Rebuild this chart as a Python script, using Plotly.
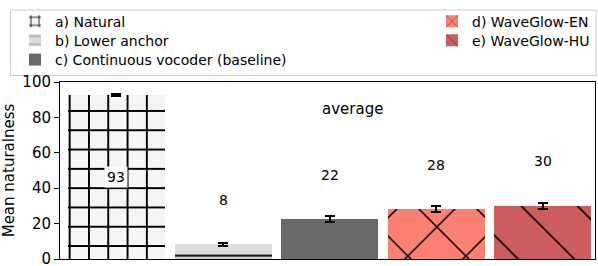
import plotly.graph_objects as go

# ---- data ----
categories = ["a) Natural", "b) Lower anchor", "c) Continuous vocoder (baseline)",
              "d) WaveGlow-EN", "e) WaveGlow-HU"]
means = [92.8, 8.4, 22.6, 28.2, 30.1]
errors = [0.6, 0.8, 1.6, 1.8, 1.8]
value_labels = ["93", "8", "22", "28", "30"]
panel_title = "average"

colors = ["#f5f5f5", "#dcdcdc", "#696969", "#fa8072", "#cd5c5c"]
patterns = [
    dict(shape="+", size=19.3, solidity=0.19, fgcolor="black", bgcolor="#f5f5f5", fillmode="replace"),
    dict(shape="-", size=38.6, solidity=0.045, fgcolor="black", bgcolor="#dcdcdc", fillmode="replace"),
    dict(shape=""),
    dict(shape="x", size=41, solidity=0.075, fgcolor="black", bgcolor="#fa8072", fillmode="replace"),
    dict(shape="\\", size=39.75, solidity=0.04, fgcolor="black", bgcolor="#cd5c5c", fillmode="replace"),
]
# legend rows (pixel) for each entry: (left x of legend, row centre y)
legend_pos = [(15, 21.7), (15, 40.7), (15, 60.0), (432, 21.7), (432, 40.7)]

W, H = 598, 266
L, R, T, B = 60, 3, 82, 7
FONT = "DejaVu Sans"

pw = W - L - R
ph = H - T - B
def px2x(p):
    return (p - L) / pw
def py2y(p):
    return (H - B - p) / ph

fig = go.Figure()
for i, cat in enumerate(categories):
    lid = "legend" if i == 0 else f"legend{i + 1}"
    fig.add_trace(go.Bar(
        x=[i], y=[means[i]], width=0.91, name=cat,
        marker=dict(color=colors[i], line=dict(width=0), pattern=patterns[i]),
        error_y=dict(type="data", array=[errors[i]], color="black", thickness=2, width=5),
        legend=lid, showlegend=True,
    ))

legends = {}
for i in range(len(categories)):
    key = "legend" if i == 0 else f"legend{i + 1}"
    lx, ly = legend_pos[i]
    legends[key] = dict(x=px2x(lx), y=py2y(ly), xanchor="left", yanchor="middle",
                        bgcolor="rgba(0,0,0,0)", borderwidth=0,
                        font=dict(size=14, family=FONT, color="black"), itemwidth=30)

# value labels
annotations = []
for i, v in enumerate(means):
    if v + 25 > 90:
        y = v / 2
        bg = "white"
    else:
        y = v + 25
        bg = None
    annotations.append(dict(x=i, y=y, xref="x", yref="y", text=value_labels[i],
                            showarrow=False, font=dict(size=14, color="black", family=FONT),
                            bgcolor=bg, borderpad=2))
annotations.append(dict(x=0.546, y=py2y(98), xref="paper", yref="paper", text=panel_title,
                        showarrow=False, font=dict(size=15, color="black", family=FONT)))

fig.update_layout(
    width=W, height=H,
    margin=dict(l=L, r=R, t=T, b=B, autoexpand=False),
    paper_bgcolor="white", plot_bgcolor="white",
    font=dict(family=FONT, size=14, color="black"),
    barmode="overlay",
    bargap=0,
    annotations=annotations,
    shapes=[dict(type="rect", xref="paper", yref="paper",
                 x0=px2x(10.5), x1=px2x(596), y0=py2y(75.5), y1=py2y(10),
                 line=dict(color="#cccccc", width=1), fillcolor="white", layer="below")],
    xaxis=dict(range=[-0.53, 4.49], showticklabels=False, ticks="", showgrid=False,
               zeroline=False, showline=True, linecolor="black", linewidth=1, mirror=True),
    yaxis=dict(range=[0, 100], tickvals=[0, 20, 40, 60, 80, 100], ticks="outside",
               ticklen=5, tickwidth=1, tickcolor="black", showgrid=False, zeroline=False,
               showline=True, linecolor="black", linewidth=1, mirror=True,
               ticklabeloverflow="allow",
               tickfont=dict(size=15, family=FONT),
               title=dict(text="Mean naturalness", font=dict(size=15, family=FONT), standoff=6)),
    **legends,
)

fig.write_html("out.html", config={"displayModeBar": False},
               post_script="document.body.style.margin='0';document.body.style.overflow='hidden';")
